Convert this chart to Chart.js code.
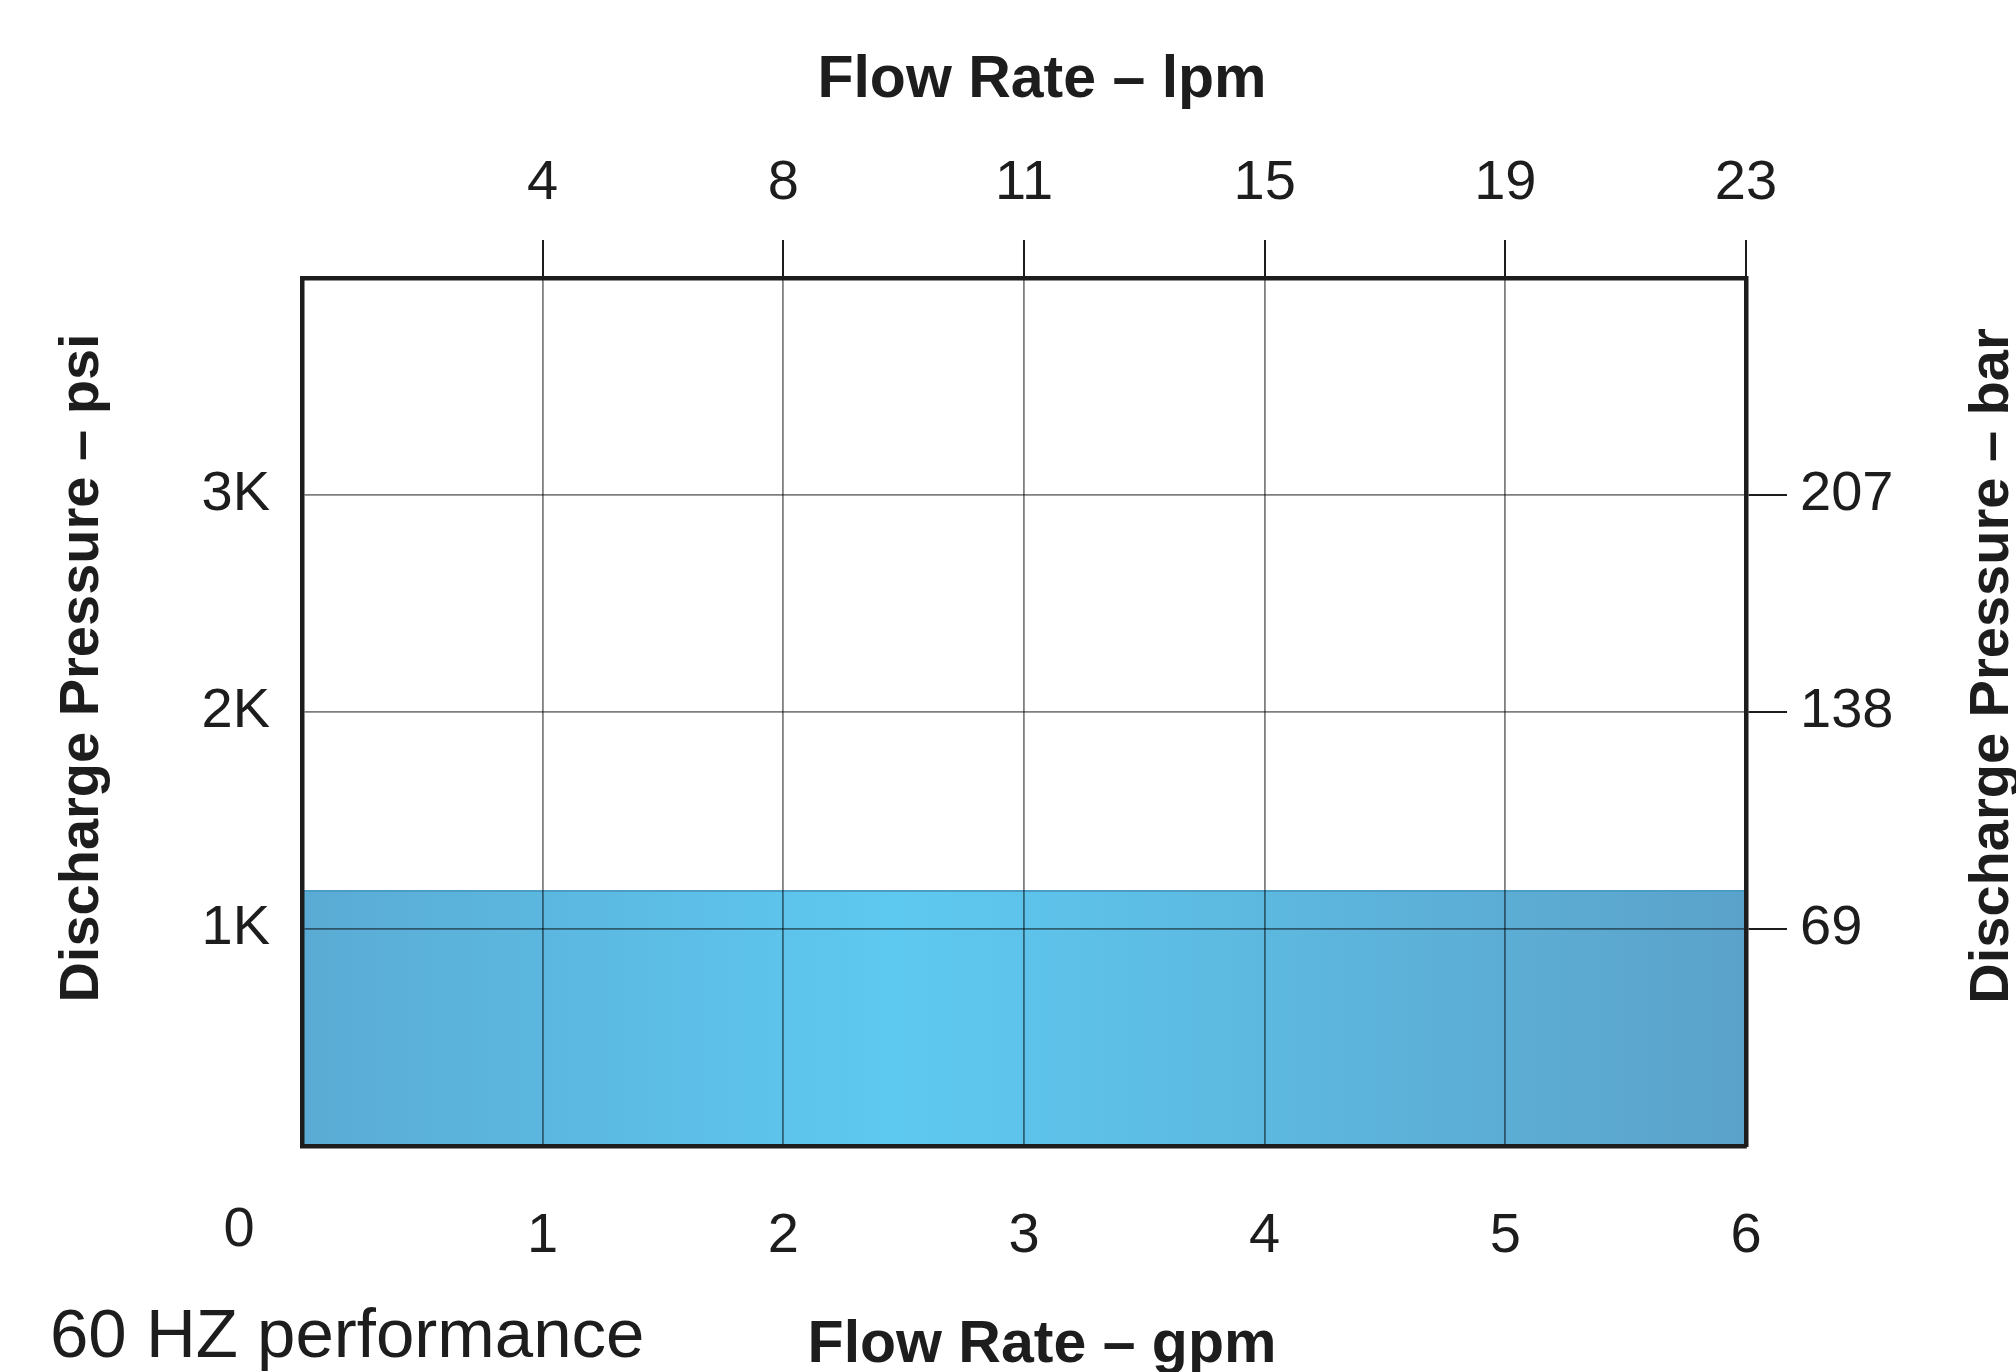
<!DOCTYPE html>
<html>
<head>
<meta charset="utf-8">
<title>60 HZ performance</title>
<script src="https://cdn.jsdelivr.net/npm/chart.js@4.4.1/dist/chart.umd.min.js"></script>
<style>
  html, body { margin: 0; padding: 0; background: #fff; }
  canvas { display: block; }
</style>
</head>
<body>
<canvas id="perfChart" width="2016" height="1372"></canvas>
<script>
// Flow rate (gpm) ticks along the bottom, lpm equivalents along the top
const gpmTicks = [0, 1, 2, 3, 4, 5, 6];
const gpmLabels = ["0", "1", "2", "3", "4", "5", "6"];
const lpmTickPositions = [1, 2, 3, 4, 5, 6];
const lpmLabels = ["4", "8", "11", "15", "19", "23"];

// Discharge pressure ticks
const psiTicks = [1000, 2000, 3000];
const psiLabels = ["1K", "2K", "3K"];
const barTicks = [69, 138, 207];
const barLabels = ["69", "138", "207"];
const psiMax = 4000;
const psiPerBar = 14.5038;

// Operating envelope (shaded band)
const bandFlow = [0, 6];
const bandPressure = [1175, 1175];

const FONT = "'Liberation Sans', Arial, Helvetica, sans-serif";
const INK = "#1d1d1d";

// ===============================
// Band gradient
// ===============================
function bandFill(context) {
    const chart = context.chart;
    const area = chart.chartArea;
    if (!area) return "#5bbce6";
    const g = chart.ctx.createLinearGradient(area.left, 0, area.right, 0);
    g.addColorStop(0, "#5aabd4");
    g.addColorStop(0.41, "#5ec9f0");
    g.addColorStop(1, "#5ba2ca");
    return g;
}

// ===============================
// Titles and loose labels
// ===============================
const extraText = {
    id: "extraText",
    afterDraw(chart) {
        const ctx = chart.ctx;
        const xs = chart.scales.x;
        ctx.save();
        ctx.fillStyle = INK;

        ctx.font = "bold 59px " + FONT;
        ctx.textAlign = "center";
        ctx.textBaseline = "alphabetic";
        ctx.fillText("Flow Rate \u2013 lpm", 1042, 97);
        ctx.fillText("Flow Rate \u2013 gpm", 1042, 1362);

        ctx.font = "bold 56px " + FONT;
        ctx.save();
        ctx.translate(98, 668);
        ctx.rotate(-Math.PI / 2);
        ctx.fillText("Discharge Pressure \u2013 psi", 0, 0);
        ctx.restore();

        ctx.save();
        ctx.translate(2008, 666);
        ctx.rotate(-Math.PI / 2);
        ctx.fillText("Discharge Pressure \u2013 bar", 0, 0);
        ctx.restore();

        // origin label sits off to the left of the corner
        ctx.font = "56px " + FONT;
        ctx.textBaseline = "middle";
        ctx.fillText(gpmLabels[0], xs.getPixelForValue(gpmTicks[0]) - 63, 1231);

        ctx.font = "69px " + FONT;
        ctx.textAlign = "left";
        ctx.textBaseline = "alphabetic";
        ctx.fillText("60 HZ performance", 50, 1357);
        ctx.restore();
    }
};

// grid lines sit over the band, frame over everything
const gridStyle = { color: "rgba(0,0,0,0.5)", lineWidth: 1.8, z: 1 };
const edge = { display: true, width: 4.5, color: INK, z: 2 };

new Chart(document.getElementById("perfChart"), {
    type: "line",
    data: {
        datasets: [{
            label: "Operating range",
            data: bandFlow.map((f, i) => ({ x: f, y: bandPressure[i] })),
            xAxisID: "x",
            yAxisID: "y",
            fill: "origin",
            backgroundColor: bandFill,
            borderColor: "#4a9cc4",
            borderWidth: 2,
            pointRadius: 0,
            tension: 0
        }]
    },
    options: {
        responsive: false,
        animation: false,
        layout: { padding: 0 },
        plugins: {
            legend: { display: false },
            tooltip: { enabled: false }
        },
        scales: {
            x: {
                type: "linear",
                position: "bottom",
                min: 0,
                max: 6,
                afterBuildTicks: s => { s.ticks = gpmTicks.map(v => ({ value: v })); },
                afterFit: s => { s.height = 1372 - 1146; },
                grid: { ...gridStyle, drawTicks: false },
                border: edge,
                ticks: {
                    padding: 57,
                    maxRotation: 0,
                    color: INK,
                    font: { family: FONT, size: 56 },
                    callback: (v, i) => (i === 0 ? "" : gpmLabels[i])
                }
            },
            xTop: {
                type: "linear",
                position: "top",
                min: 0,
                max: 6,
                afterBuildTicks: s => { s.ticks = lpmTickPositions.map(v => ({ value: v })); },
                afterFit: s => { s.height = 278; },
                grid: { drawOnChartArea: false, drawTicks: true, tickLength: 38, tickColor: INK, lineWidth: 2 },
                border: edge,
                ticks: {
                    padding: 23,
                    maxRotation: 0,
                    color: INK,
                    font: { family: FONT, size: 56 },
                    callback: (v, i) => lpmLabels[i]
                }
            },
            y: {
                type: "linear",
                position: "left",
                min: 0,
                max: psiMax,
                afterBuildTicks: s => { s.ticks = psiTicks.map(v => ({ value: v })); },
                afterFit: s => { s.width = 302; },
                grid: { ...gridStyle, drawTicks: false },
                border: edge,
                ticks: {
                    padding: 32,
                    color: INK,
                    font: { family: FONT, size: 56 },
                    callback: (v, i) => psiLabels[i]
                }
            },
            yBar: {
                type: "linear",
                position: "right",
                min: 0,
                max: psiMax / psiPerBar,
                afterBuildTicks: s => { s.ticks = barTicks.map(v => ({ value: v })); },
                afterFit: s => { s.width = 2016 - 1746; },
                grid: { drawOnChartArea: false, drawTicks: true, tickLength: 41, tickColor: INK, lineWidth: 2 },
                border: edge,
                ticks: {
                    padding: 13,
                    color: INK,
                    font: { family: FONT, size: 56 },
                    callback: (v, i) => barLabels[i]
                }
            }
        }
    },
    plugins: [extraText]
});
</script>
</body>
</html>
